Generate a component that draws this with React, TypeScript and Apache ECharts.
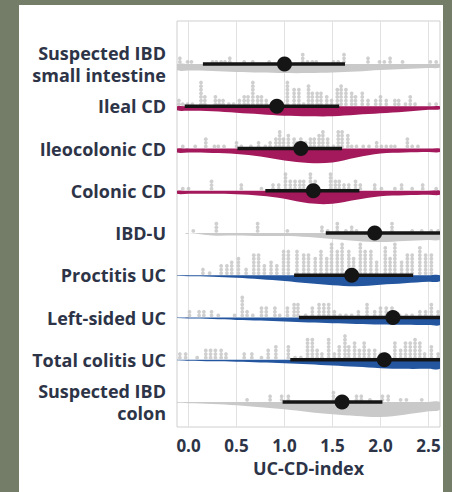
import React, { useEffect, useRef } from "react";
import * as echarts from "echarts";

// ---------- data ----------
const categories = [
  "Suspected IBD\nsmall intestine",
  "Ileal CD",
  "Ileocolonic CD",
  "Colonic CD",
  "IBD-U",
  "Proctitis UC",
  "Left-sided UC",
  "Total colitis UC",
  "Suspected IBD\ncolon",
];

const xTicks = [0, 0.5, 1.0, 1.5, 2.0, 2.5];

// point estimate and interval per group
const pointEstimate = [1.0, 0.92, 1.17, 1.3, 1.94, 1.7, 2.13, 2.04, 1.6];
const intervalLow = [0.15, -0.04, 0.51, 0.8, 1.43, 1.1, 1.15, 1.06, 0.98];
const intervalHigh = [1.63, 1.57, 1.6, 1.78, 2.75, 2.34, 2.75, 2.75, 2.02];

// density (half-violin) thickness sampled at densityX
const densityX = [-0.12, 0, 0.25, 0.5, 0.75, 1.0, 1.25, 1.5, 1.75, 2.0, 2.25, 2.5, 2.62];
const densitySmallIntestine = [6, 6.5, 7, 8, 8.5, 9, 9, 8.5, 7.5, 6, 5, 4, 3.5];
const densityIleal = [4, 4.5, 5, 6.5, 8, 9.5, 10, 10, 8.5, 7, 5.5, 3.5, 3];
const densityIleocolonic = [4, 4, 4.5, 5.5, 8, 12, 14.5, 14, 9, 5, 4, 3.5, 3.5];
const densityColonic = [3, 3, 3, 3.5, 5, 8, 12.5, 13, 9, 5.5, 4.5, 4, 4];
const densityIbdU = [0, 0, 2.5, 2.5, 3, 3, 4, 6, 8, 9, 8, 7, 6.5];
const densityProctitis = [0.5, 1, 1.5, 2.5, 4, 5.7, 8, 10, 11, 9.5, 8, 6.5, 6];
const densityLeftSided = [0.5, 1, 1.5, 2.3, 3, 4, 5, 5.7, 6.3, 6.8, 7.2, 7.5, 7.5];
const densityTotalColitis = [0.5, 1, 1.5, 2, 2.7, 3.3, 4.3, 5.7, 7, 8.3, 9, 9, 9];
const densityColon = [0.8, 1.2, 2, 3.3, 5.3, 7.3, 10, 12.3, 14, 15, 12.7, 9.3, 7.7];

// dot plot: [x, count]
const dotsSmallIntestine = [
  [-0.09, 2], [-0.01, 1], [0.03, 1], [0.25, 1], [0.29, 1], [0.34, 1], [0.38, 1], [0.43, 2],
  [0.58, 1], [0.67, 1], [0.84, 1], [1.01, 1], [1.19, 3], [1.24, 1], [1.29, 1], [1.33, 1],
  [1.51, 1], [1.56, 1], [1.62, 3], [1.87, 2], [1.99, 1], [2.04, 1], [2.1, 2], [2.23, 1],
  [2.52, 1], [2.58, 1],
];
const dotsIleal = [
  [-0.1, 2], [-0.06, 1], [-0.01, 1], [0.04, 1], [0.13, 7], [0.17, 3], [0.28, 3], [0.32, 2],
  [0.36, 2], [0.42, 1], [0.47, 1], [0.53, 2], [0.58, 3], [0.62, 3], [0.67, 7], [0.72, 3],
  [0.76, 3], [0.81, 2], [0.87, 1], [0.92, 1], [1.03, 7], [1.1, 5], [1.15, 5], [1.2, 1],
  [1.25, 6], [1.29, 4], [1.34, 4], [1.38, 4], [1.44, 3], [1.49, 2], [1.55, 5], [1.59, 6],
  [1.64, 5], [1.7, 4], [1.74, 3], [1.81, 4], [1.87, 2], [1.95, 2], [2.0, 3], [2.06, 2],
  [2.15, 2], [2.19, 2], [2.26, 1], [2.31, 3], [2.36, 1], [2.51, 1], [2.58, 1],
];
const dotsIleocolonic = [
  [-0.06, 1], [0.07, 1], [0.18, 3], [0.27, 1], [0.31, 1], [0.37, 1], [0.5, 2], [0.55, 1],
  [0.65, 1], [0.73, 2], [0.8, 1], [0.85, 2], [0.91, 3], [0.95, 5], [0.99, 3], [1.04, 4],
  [1.1, 3], [1.13, 2], [1.17, 3], [1.22, 2], [1.27, 3], [1.31, 3], [1.36, 4], [1.4, 5],
  [1.45, 3], [1.51, 1], [1.56, 5], [1.6, 5], [1.66, 4], [1.7, 1], [1.75, 1], [1.82, 1],
  [1.88, 1], [1.96, 2], [2.01, 1], [2.06, 1], [2.11, 1], [2.15, 1], [2.28, 3], [2.33, 1],
  [2.39, 1],
];
const dotsColonic = [
  [-0.06, 1], [0.0, 1], [0.24, 3], [0.55, 2], [0.76, 1], [0.88, 2], [0.94, 2], [1.01, 5],
  [1.06, 3], [1.11, 3], [1.16, 3], [1.2, 3], [1.27, 5], [1.32, 3], [1.48, 5], [1.53, 3],
  [1.57, 3], [1.62, 2], [1.67, 2], [1.74, 3], [1.79, 2], [1.94, 2], [2.01, 1], [2.15, 1],
  [2.22, 2], [2.33, 1], [2.44, 2], [2.58, 1],
];
const dotsIbdU = [
  [0.05, 1], [0.29, 3], [0.72, 3], [1.03, 1], [1.39, 2], [1.45, 1], [1.55, 3], [1.64, 1],
  [1.7, 2], [1.75, 1], [1.94, 1], [2.12, 3], [2.33, 1], [2.43, 1], [2.53, 1], [2.6, 1],
];
const dotsProctitis = [
  [0.15, 2], [0.22, 1], [0.34, 3], [0.4, 3], [0.45, 4], [0.52, 5], [0.6, 2], [0.68, 6],
  [0.73, 6], [0.79, 3], [0.86, 4], [0.92, 3], [0.99, 7], [1.04, 7], [1.13, 7], [1.2, 6],
  [1.25, 6], [1.32, 5], [1.38, 7], [1.44, 5], [1.49, 9], [1.55, 7], [1.6, 9], [1.67, 7],
  [1.72, 5], [1.79, 9], [1.84, 7], [1.9, 7], [1.96, 4], [2.05, 8], [2.1, 5], [2.15, 9],
  [2.22, 4], [2.28, 6], [2.33, 6], [2.41, 8], [2.47, 6], [2.53, 6],
];
const dotsLeftSided = [
  [0.01, 2], [0.11, 2], [0.16, 2], [0.24, 2], [0.31, 1], [0.48, 1], [0.56, 6], [0.61, 2],
  [0.67, 1], [0.76, 3], [0.81, 3], [0.9, 3], [0.95, 1], [1.03, 3], [1.1, 4], [1.14, 4],
  [1.22, 1], [1.29, 3], [1.36, 4], [1.41, 4], [1.46, 4], [1.52, 2], [1.58, 1], [1.64, 1],
  [1.7, 1], [1.77, 2], [1.86, 4], [1.94, 2], [2.0, 3], [2.06, 3], [2.12, 3], [2.2, 1],
  [2.27, 1], [2.33, 1], [2.41, 2], [2.47, 2], [2.53, 4], [2.6, 2],
];
const dotsTotalColitis = [
  [-0.09, 2], [-0.03, 2], [0.09, 1], [0.18, 3], [0.23, 3], [0.28, 3], [0.34, 3], [0.39, 2],
  [0.58, 2], [0.66, 2], [0.76, 1], [0.83, 3], [0.91, 4], [1.04, 4], [1.11, 1], [1.17, 1],
  [1.24, 6], [1.29, 6], [1.34, 3], [1.39, 2], [1.46, 6], [1.52, 2], [1.57, 4], [1.63, 7],
  [1.67, 4], [1.73, 5], [1.78, 3], [1.83, 5], [1.88, 3], [1.94, 3], [2.0, 2], [2.05, 2],
  [2.15, 5], [2.21, 3], [2.26, 5], [2.31, 5], [2.36, 6], [2.41, 5], [2.46, 2], [2.53, 4],
  [2.6, 2],
];
const dotsColon = [
  [0.61, 1], [0.85, 2], [0.97, 2], [1.04, 2], [1.51, 3], [1.6, 1], [1.75, 2], [1.8, 2],
  [1.89, 1], [2.02, 2], [2.08, 2], [2.21, 1], [2.27, 1], [2.43, 1],
];

const densities = [
  densitySmallIntestine, densityIleal, densityIleocolonic, densityColonic, densityIbdU,
  densityProctitis, densityLeftSided, densityTotalColitis, densityColon,
];
const dotSets = [
  dotsSmallIntestine, dotsIleal, dotsIleocolonic, dotsColonic, dotsIbdU,
  dotsProctitis, dotsLeftSided, dotsTotalColitis, dotsColon,
];

// ---------- styles ----------
const GRAY = "#c9c9c9";
const CRIMSON = "#a3195b";
const BLUE = "#2456a0";
const violinColors = [GRAY, CRIMSON, CRIMSON, CRIMSON, GRAY, BLUE, BLUE, BLUE, GRAY];
const TEXT = "#2d3447";
const FONT = "'Open Sans', 'Noto Sans', sans-serif";
const ROW_PX = 42.25; // pixels per row unit
const DOT_BASE = 2.2 / ROW_PX;
const DOT_STEP = 3.6 / ROW_PX;

export default function App() {
  const ref = useRef<HTMLDivElement>(null);

  useEffect(() => {
    if (!ref.current) return;
    const chart = echarts.init(ref.current, null, { renderer: "svg" });

    const violinData = densities.map((d, i) => [i, ...d]);
    const dotData: number[][] = [];
    dotSets.forEach((set, i) => {
      set.forEach(([x, c]) => {
        for (let k = 0; k < c; k++) dotData.push([x, i - (DOT_BASE + k * DOT_STEP)]);
      });
    });
    const intervalData = categories.map((_, i) => [i, intervalLow[i], intervalHigh[i], pointEstimate[i]]);

    chart.setOption({
      animation: false,
      grid: {
        left: 177,
        top: 21,
        width: 263,
        height: 406,
        show: true,
        borderColor: "#cfcfcf",
        borderWidth: 1,
        backgroundColor: "transparent",
      },
      xAxis: {
        type: "value",
        min: -0.12,
        max: 2.62,
        name: "UC-CD-index",
        nameLocation: "middle",
        nameGap: 30,
        nameTextStyle: { fontFamily: FONT, fontWeight: "bold", fontSize: 18, color: TEXT },
        axisLine: { show: false },
        axisTick: { show: false, customValues: xTicks },
        axisLabel: {
          customValues: xTicks,
          formatter: (v: number) => v.toFixed(1),
          fontFamily: FONT,
          fontWeight: "bold",
          fontSize: 17,
          color: TEXT,
          margin: 10,
        },
        splitLine: { show: true, lineStyle: { color: "#e2e2e2", width: 1 } },
      },
      yAxis: {
        type: "value",
        inverse: true,
        min: -1.02,
        max: 8.59,
        axisLine: { show: false },
        splitLine: { show: false },
        axisTick: {
          show: true,
          customValues: categories.map((_, i) => i),
          length: 3,
          lineStyle: { color: "#cccccc" },
        },
        axisLabel: {
          customValues: categories.map((_, i) => i),
          formatter: (v: number) => categories[Math.round(v)] ?? "",
          fontFamily: FONT,
          fontWeight: "bold",
          fontSize: 18,
          lineHeight: 22,
          color: TEXT,
          margin: 11,
          align: "right",
        },
      },
      series: [
        {
          type: "custom",
          clip: true,
          silent: true,
          renderItem: (params: any, api: any) => {
            const row = api.value(0);
            const pts: number[][] = [];
            densityX.forEach((x, j) => {
              pts.push(api.coord([x, row + api.value(j + 1) / ROW_PX]));
            });
            for (let j = densityX.length - 1; j >= 0; j--) pts.push(api.coord([densityX[j], row]));
            return {
              type: "polygon",
              shape: { points: pts, smooth: 0.35 },
              style: { fill: violinColors[params.dataIndex] },
            };
          },
          data: violinData,
          z: 1,
        },
        {
          type: "scatter",
          symbol: "circle",
          symbolSize: 3.8,
          itemStyle: { color: "#c3c3c3" },
          data: dotData,
          silent: true,
          z: 2,
        },
        {
          type: "custom",
          clip: true,
          silent: true,
          renderItem: (params: any, api: any) => {
            const row = api.value(0);
            const a = api.coord([api.value(1), row]);
            const b = api.coord([api.value(2), row]);
            const c = api.coord([api.value(3), row]);
            return {
              type: "group",
              children: [
                {
                  type: "line",
                  shape: { x1: a[0], y1: a[1], x2: b[0], y2: b[1] },
                  style: { stroke: "#151515", lineWidth: 3.5 },
                },
                {
                  type: "circle",
                  shape: { cx: c[0], cy: c[1], r: 7.5 },
                  style: { fill: "#151515" },
                },
              ],
            };
          },
          data: intervalData,
          z: 3,
        },
      ],
    });

    return () => chart.dispose();
  }, []);

  return (
    <div
      style={{
        position: "fixed",
        left: 0,
        top: 0,
        width: 452,
        height: 492,
        background: "#737d68",
        overflow: "hidden",
      }}
    >
      <div
        style={{
          position: "absolute",
          left: 19,
          top: 5,
          width: 424,
          height: 487,
          background: "#ffffff",
        }}
      />
      <div ref={ref} style={{ position: "absolute", left: 0, top: 0, width: 452, height: 492 }} />
    </div>
  );
}
